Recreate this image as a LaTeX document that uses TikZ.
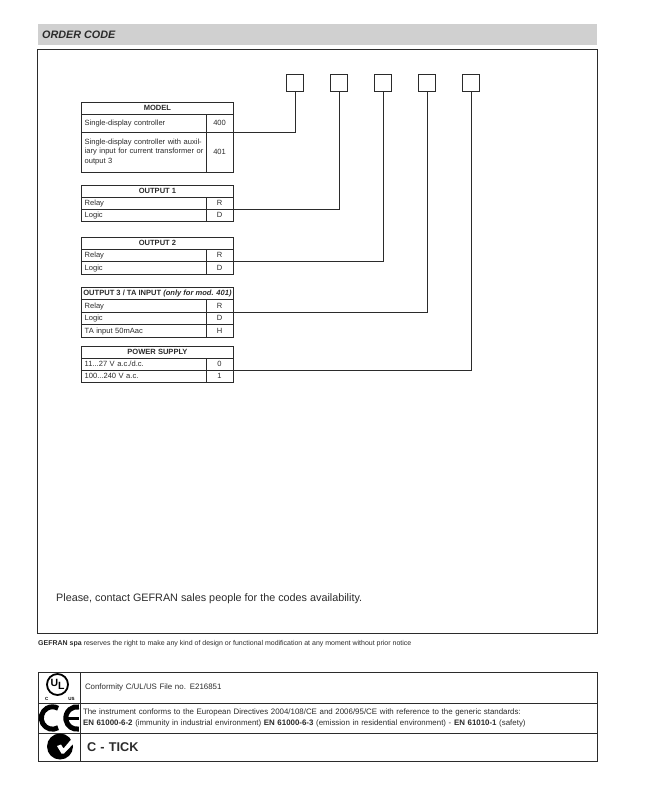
\documentclass[tikz,border=0pt]{standalone}
\usepackage{fontspec}
\setmainfont{Liberation Sans}
\usepackage{tikz}
\usetikzlibrary{positioning}
\definecolor{inkgray}{HTML}{2B2B2B}
\definecolor{bandgray}{HTML}{D0D0D0}
\tikzset{
  headcell/.style={draw=inkgray,line width=0.8pt,outer sep=0pt,inner sep=0pt,minimum width=151.5pt,font=\fontsize{7.55}{9}\selectfont\bfseries,text=inkgray},
  textcell/.style={draw=inkgray,line width=0.8pt,outer sep=0pt,inner xsep=3pt,inner ysep=0pt,minimum width=124.2pt,text width=118.2pt,align=left,font=\fontsize{7.55}{9.1}\selectfont,text=inkgray},
  rowcell/.style={textcell,text height=5.5pt,text depth=0.8pt},
  codecell/.style={draw=inkgray,line width=0.8pt,outer sep=0pt,inner sep=0pt,minimum width=27.3pt,text height=5.5pt,text depth=0.8pt,font=\fontsize{7.55}{9}\selectfont,text=inkgray},
  slotbox/.style={draw=inkgray,line width=0.9pt,outer sep=0pt,minimum size=17.5pt,inner sep=0pt},
  wire/.style={draw=inkgray,line width=0.7pt},
  iconcell/.style={draw=inkgray,line width=0.8pt,outer sep=0pt,minimum width=42pt},
  certcell/.style={draw=inkgray,line width=0.8pt,outer sep=0pt,inner ysep=0pt,minimum width=517pt,align=left,text=inkgray}
}
\begin{document}
\begin{tikzpicture}[x=1pt,y=-1pt,node distance=0pt]
\useasboundingbox (0,0) rectangle (645,791);
\node (band) [fill=bandgray,outer sep=0pt,minimum width=559pt,minimum height=21pt,anchor=north west] at (38,24) {};
\node (title) [anchor=west,font=\fontsize{10.8}{12}\selectfont\bfseries\itshape,text=inkgray,inner sep=0pt] at (42,34.5) {ORDER CODE};
\node (frame) [draw=inkgray,line width=0.9pt,minimum width=560pt,minimum height=584pt,anchor=north west,outer sep=0pt] at (37,49) {};
% slots
\node (s1) [slotbox] at (295,83) {};
\node (s2) [slotbox] at (339,83) {};
\node (s3) [slotbox] at (383,83) {};
\node (s4) [slotbox] at (427,83) {};
\node (s5) [slotbox] at (471,83) {};
% model
\node (mhead) [headcell,minimum height=12pt,anchor=north west] at (81.7,102) {MODEL};
\node (m400) [rowcell,minimum height=18pt,below=of mhead.south west,anchor=north west] {Single-display controller};
\node (c400) [codecell,minimum height=18pt,right=of m400] {400};
\node (m401) [textcell,minimum height=40pt,below=of m400.south west,anchor=north west] {Single-display controller with auxil-\\\mbox{iary input for current transformer or}\\output 3};
\node (c401) [codecell,minimum height=40pt,right=of m401] {401};
% output 1
\node (ahead) [headcell,minimum height=12pt,anchor=north west] at (81.7,185) {OUTPUT 1};
\node (arelay) [rowcell,minimum height=12pt,below=of ahead.south west,anchor=north west] {Relay};
\node (ar) [codecell,minimum height=12pt,right=of arelay] {R};
\node (alogic) [rowcell,minimum height=12pt,below=of arelay.south west,anchor=north west] {Logic};
\node (ad) [codecell,minimum height=12pt,right=of alogic] {D};
% output 2
\node (bhead) [headcell,minimum height=12.3pt,anchor=north west] at (81.7,237) {OUTPUT 2};
\node (brelay) [rowcell,minimum height=12.3pt,below=of bhead.south west,anchor=north west] {Relay};
\node (br) [codecell,minimum height=12.3pt,right=of brelay] {R};
\node (blogic) [rowcell,minimum height=12.3pt,below=of brelay.south west,anchor=north west] {Logic};
\node (bd) [codecell,minimum height=12.3pt,right=of blogic] {D};
% output 3
\node (chead) [headcell,minimum height=12.5pt,anchor=north west] at (81.7,287) {OUTPUT 3 / TA INPUT {\itshape(only for mod. 401)}};
\node (crelay) [rowcell,minimum height=12.5pt,below=of chead.south west,anchor=north west] {Relay};
\node (cr) [codecell,minimum height=12.5pt,right=of crelay] {R};
\node (clogic) [rowcell,minimum height=12.5pt,below=of crelay.south west,anchor=north west] {Logic};
\node (cd) [codecell,minimum height=12.5pt,right=of clogic] {D};
\node (cta) [rowcell,minimum height=12.5pt,below=of clogic.south west,anchor=north west] {TA input 50mAac};
\node (ch) [codecell,minimum height=12.5pt,right=of cta] {H};
% power
\node (phead) [headcell,minimum height=12pt,anchor=north west] at (81.7,346) {POWER SUPPLY};
\node (plow) [rowcell,minimum height=12pt,below=of phead.south west,anchor=north west] {11...27 V a.c./d.c.};
\node (p0) [codecell,minimum height=12pt,right=of plow] {0};
\node (phigh) [rowcell,minimum height=12pt,below=of plow.south west,anchor=north west] {100...240 V a.c.};
\node (p1) [codecell,minimum height=12pt,right=of phigh] {1};
% connectors
\draw[wire] (c400.south east) -| (s1.south);
\draw[wire] (ar.south east) -| (s2.south);
\draw[wire] (br.south east) -| (s3.south);
\draw[wire] (cr.south east) -| (s4.south);
\draw[wire] (p0.south east) -| (s5.south);
\node (please) [anchor=west,inner sep=0pt,font=\fontsize{10.8}{12}\selectfont,text=inkgray] at (56,598.5) {Please, contact GEFRAN sales people for the codes availability.};
\node (notice) [anchor=west,inner sep=0pt,font=\fontsize{7}{8}\selectfont,text=inkgray] at (38,643.5) {\textbf{GEFRAN spa} reserves the right to make any kind of design or functional modification at any moment without prior notice};
% certificates
\node (ulicon) [iconcell,minimum height=31pt,anchor=north west] at (38,672) {};
\node (ultext) [certcell,minimum height=31pt,right=of ulicon,inner xsep=5pt,text width=507pt,font=\fontsize{7.9}{9}\selectfont] {Conformity C/UL/US File no. E216851};
\node (ceicon) [iconcell,minimum height=30pt,below=of ulicon.south west,anchor=north west] {};
\node (cetext) [certcell,minimum height=30pt,right=of ceicon,inner xsep=3pt,text width=511pt,font=\fontsize{7.9}{11}\selectfont] {The instrument conforms to the European Directives 2004/108/CE and 2006/95/CE with reference to the generic standards:\\\textbf{EN 61000-6-2} (immunity in industrial environment) \textbf{EN 61000-6-3} (emission in residential environment) - \textbf{EN 61010-1} (safety)};
\node (tickicon) [iconcell,minimum height=28pt,below=of ceicon.south west,anchor=north west] {};
\node (ticktext) [certcell,minimum height=28pt,right=of tickicon,inner xsep=7pt,text width=503pt,font=\fontsize{12.7}{14}\selectfont\bfseries] {C - TICK};
% logos
\node (ulring) [draw=black,circle,line width=1.8pt,minimum size=21pt,inner sep=0pt,font=\fontsize{10.5}{12}\selectfont\bfseries] at (57.5,684.5) {U\raisebox{-2.5pt}{L}};
\node (ulc) [inner sep=0pt,font=\fontsize{4.5}{5}\selectfont\bfseries] at (46.7,699) {C};
\node (ulus) [inner sep=0pt,font=\fontsize{4.5}{5}\selectfont\bfseries] at (71.5,699) {US};
\draw[line width=5pt] ([shift={(52.5,718)}]60:11.2) arc[start angle=60,end angle=300,radius=11.2];
\draw[line width=5pt] ([shift={(77,718)}]80:11.2) arc[start angle=80,end angle=280,radius=11.2];
\draw[line width=3pt] (68,718) -- (79,718);
\node (tickdisc) [fill=black,circle,minimum size=26pt,inner sep=0pt] at (60,746.5) {};
\fill[white] (57,746) -- (61,744.5) -- (63.5,748.5) -- (72,738.5) -- (76,741) -- (64,753.5) -- (61.5,753.5) -- cycle;
\end{tikzpicture}
\end{document}
